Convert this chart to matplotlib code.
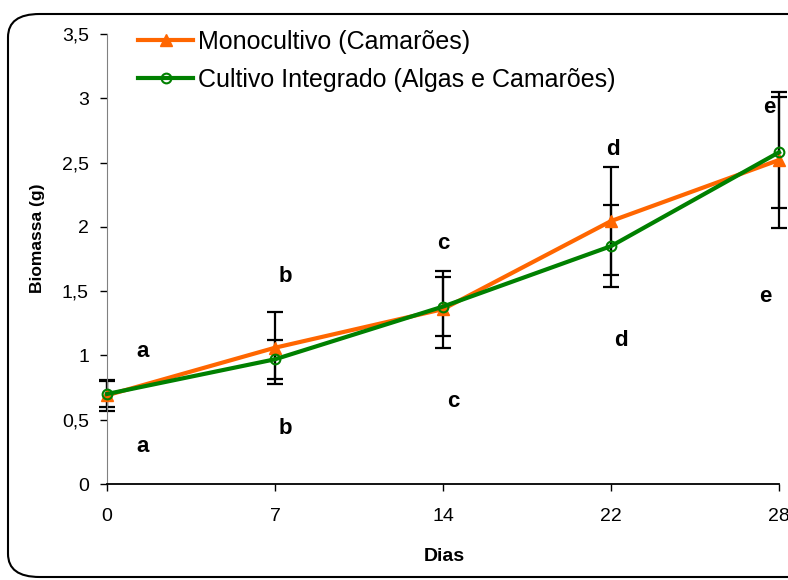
import matplotlib
matplotlib.use("Agg")
import matplotlib.pyplot as plt
from matplotlib.patches import FancyBboxPatch
from matplotlib.ticker import FuncFormatter

plt.rcParams['font.family'] = ['Liberation Sans', 'DejaVu Sans']

# Dias de cultivo (eixo categórico)
dias = ['0', '7', '14', '22', '28']

# Biomassa média (g) e desvio padrão
mono = [0.69, 1.06, 1.36, 2.045, 2.52]
mono_err = [0.12, 0.28, 0.30, 0.42, 0.53]
integ = [0.70, 0.97, 1.38, 1.85, 2.58]
integ_err = [0.10, 0.15, 0.23, 0.32, 0.43]

# Letras de significância (posição x em categorias, y em g)
letras = ['a', 'a', 'b', 'b', 'c', 'c', 'd', 'd', 'e', 'e']
letras_x = [0.21, 0.21, 1.06, 1.06, 2.0, 2.06, 3.01, 3.06, 3.94, 3.92]
letras_y = [1.03, 0.29, 1.61, 0.43, 1.87, 0.645, 2.60, 1.12, 2.93, 1.455]

laranja = '#FF6600'
verde = '#008000'

fig = plt.figure(figsize=(7.88, 5.80), dpi=100)
ax = fig.add_axes([0.1358, 0.1655, 0.8528, 0.7759])
x = list(range(len(dias)))

ax.errorbar(x, mono, yerr=mono_err, fmt='none', ecolor='black',
            elinewidth=1.6, capsize=5.5, capthick=1.6, clip_on=False, zorder=2)
ax.errorbar(x, integ, yerr=integ_err, fmt='none', ecolor='black',
            elinewidth=1.6, capsize=5.5, capthick=1.6, clip_on=False, zorder=2)

ax.plot(x, mono, color=laranja, lw=3, marker='^', ms=9,
        label='Monocultivo (Camarões)', clip_on=False, zorder=3)
ax.plot(x, integ, color=verde, lw=3, marker='o', ms=7, mfc='none',
        mew=1.5, label='Cultivo Integrado (Algas e Camarões)',
        clip_on=False, zorder=4)

for t, lx, ly in zip(letras, letras_x, letras_y):
    ax.text(lx, ly, t, fontsize=16, fontweight='bold', ha='center', va='center')

ax.set_xlim(0, 4)
ax.set_ylim(0, 3.5)
ax.set_xticks(x)
ax.set_xticklabels(dias)
ax.set_yticks([0, 0.5, 1, 1.5, 2, 2.5, 3, 3.5])
ax.yaxis.set_major_formatter(FuncFormatter(lambda v, p: f'{v:g}'.replace('.', ',')))
ax.tick_params(labelsize=14, length=5, width=1)
ax.tick_params(axis='x', pad=12)
ax.tick_params(axis='y', pad=8)

for s in ['top', 'right']:
    ax.spines[s].set_visible(False)
ax.spines['left'].set_color('#808080')
ax.spines['bottom'].set_linewidth(1.3)

ax.set_xlabel('Dias', fontsize=14, fontweight='bold')
ax.xaxis.set_label_coords(0.5015, -0.142)
ax.set_ylabel('Biomassa (g)', fontsize=12.5, fontweight='bold')
ax.yaxis.set_label_coords(-0.093, 0.547)

ax.legend(loc='upper left', bbox_to_anchor=(138 / 788, 1 - 30 / 580),
          bbox_transform=fig.transFigure, frameon=False, borderpad=0,
          borderaxespad=0, fontsize=18, handlelength=2.2,
          handletextpad=0.2, labelspacing=0.54)

# Moldura arredondada em volta da figura
caixa = FancyBboxPatch((8 / 788, 3 / 580), 820 / 788, 563 / 580,
                       boxstyle='round,pad=0,rounding_size=0.04',
                       transform=fig.transFigure, fill=False,
                       edgecolor='black', lw=1.5, clip_on=False)
fig.patches.append(caixa)

fig.savefig('out.png', dpi=100)
